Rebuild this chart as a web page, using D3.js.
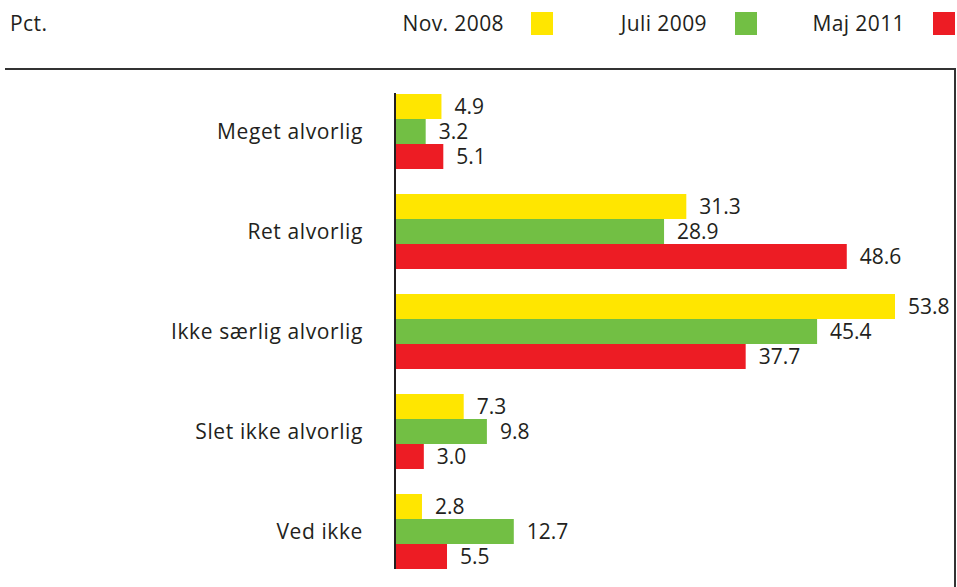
<!DOCTYPE html>
<html><head><meta charset="utf-8">
<script src="https://cdn.jsdelivr.net/npm/d3@7"></script>
<style>body{margin:0;background:#fff}svg{display:block}text{font-family:"Open Sans",sans-serif;fill:#231f20}</style>
</head><body>
<script>
const categories = ["Meget alvorlig","Ret alvorlig","Ikke særlig alvorlig","Slet ikke alvorlig","Ved ikke"];
const seriesNames = ["Nov. 2008","Juli 2009","Maj 2011"];
const nov2008 = [4.9,31.3,53.8,7.3,2.8];
const juli2009 = [3.2,28.9,45.4,9.8,12.7];
const maj2011 = [5.1,48.6,37.7,3.0,5.5];
const colors = ["#FFE600","#72BF44","#ED1C24"];
const series = [nov2008, juli2009, maj2011];

const W=957,H=587,FS=21;
const svg=d3.select("body").append("svg").attr("width",W).attr("height",H);

const x=d3.scaleLinear().domain([0,53.8]).range([396,895]);
const y=d3.scaleBand().domain(categories).range([94,569]).paddingInner(0.25).paddingOuter(0);
const ys=d3.scaleBand().domain(seriesNames).range([0,y.bandwidth()]);

// frame
svg.append("path").attr("d","M5,69H955V587").attr("fill","none").attr("stroke","#333").attr("stroke-width",2);

svg.append("text").attr("x",10).attr("y",31).attr("font-size",FS).attr("letter-spacing",0.4).text("Pct.");

const legEnd=[504,707,905], swX=[531,735,933];
seriesNames.forEach((n,i)=>{
  svg.append("text").attr("x",legEnd[i]).attr("y",31).attr("text-anchor","end").attr("font-size",FS).attr("letter-spacing",0.4).text(n);
  svg.append("rect").attr("x",swX[i]).attr("y",12).attr("width",22).attr("height",23).attr("fill",colors[i]);
});

const g=svg.append("g");
categories.forEach((c,ci)=>{
  g.append("text").attr("x",363).attr("y",y(c)+y.bandwidth()/2+7).attr("text-anchor","end").attr("font-size",FS).attr("letter-spacing",0.6).text(c);
  series.forEach((s,si)=>{
    const v=s[ci];
    g.append("rect").attr("x",x(0)).attr("y",y(c)+ys(seriesNames[si])).attr("width",x(v)-x(0)).attr("height",ys.bandwidth()).attr("fill",colors[si]);
    g.append("text").attr("x",x(v)+13).attr("y",y(c)+ys(seriesNames[si])+ys.bandwidth()/2+7).attr("font-size",FS).text(v.toFixed(1));
  });
});

svg.append("line").attr("x1",395).attr("x2",395).attr("y1",93).attr("y2",569).attr("stroke","#231f20").attr("stroke-width",2);
</script>
</body></html>
